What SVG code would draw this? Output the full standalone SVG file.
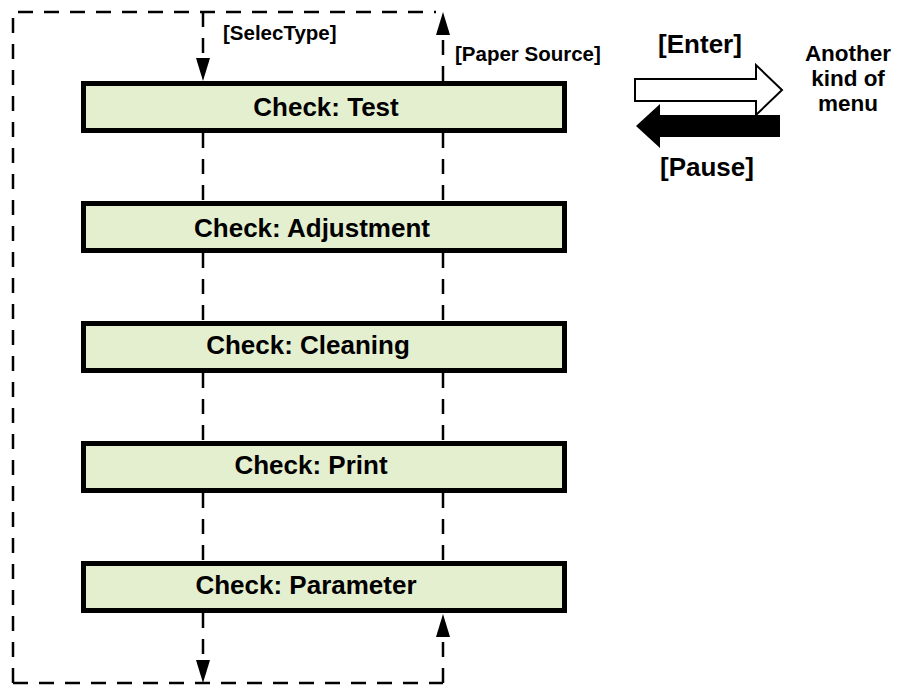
<svg xmlns="http://www.w3.org/2000/svg" width="905" height="685" viewBox="0 0 905 685">
  <style>
    .box { fill: #e4efcf; stroke: #000; stroke-width: 5; }
    .boxtxt { font-family: "Liberation Sans", Arial, sans-serif; font-weight: bold; font-size: 26px; fill: #000; text-anchor: middle; }
    .lbl { font-family: "Liberation Sans", Arial, sans-serif; font-weight: bold; font-size: 20.5px; fill: #000; }
    .big { font-family: "Liberation Sans", Arial, sans-serif; font-weight: bold; font-size: 26px; fill: #000; text-anchor: middle; }
    .side { font-family: "Liberation Sans", Arial, sans-serif; font-weight: bold; font-size: 22.5px; fill: #000; text-anchor: middle; }
    .dash { fill: none; stroke: #000; stroke-width: 2.5; stroke-dasharray: 15 11; }
    .dasharrow { fill: none; stroke: #000; stroke-width: 2.5; stroke-dasharray: 15 11; marker-end: url(#ah); }
  </style>
  <defs>
    <marker id="ah" viewBox="0 0 23 14" refX="0" refY="7" markerWidth="23" markerHeight="14" markerUnits="userSpaceOnUse" orient="auto">
      <path d="M0,0 L23,7 L0,14 Z" fill="#000"/>
    </marker>
  </defs>

  <g id="connectors">
    <!-- outer loop -->
    <path class="dash" d="M13,683 L13,12 L436,12"/>
    <path class="dash" d="M13,683 L443,683"/>
    <!-- SelecType entry -->
    <path class="dasharrow" d="M203,12 L203,58"/>
    <!-- Paper Source exit -->
    <path class="dasharrow" d="M443,81 L443,35"/>
    <!-- between boxes -->
    <path class="dash" d="M203,133 L203,201"/>
    <path class="dash" d="M443,133 L443,201"/>
    <path class="dash" d="M203,253 L203,321"/>
    <path class="dash" d="M443,253 L443,321"/>
    <path class="dash" d="M203,373 L203,441"/>
    <path class="dash" d="M443,373 L443,441"/>
    <path class="dash" d="M203,493 L203,561"/>
    <path class="dash" d="M443,493 L443,561"/>
    <!-- bottom arrows -->
    <path class="dasharrow" d="M203,613 L203,660"/>
    <path class="dasharrow" d="M443,683 L443,637"/>
    <!-- Enter / Pause arrows -->
    <polygon points="635,79 756,79 756,65 782,90 756,115 756,101 635,101" fill="#fff" stroke="#000" stroke-width="2"/>
    <polygon points="780,115 660,115 660,104 636,126 660,148 660,137 780,137" fill="#000"/>
  </g>

  <g id="node-test">
    <rect class="box" x="83.5" y="83.5" width="481" height="47"/>
    <text class="boxtxt" x="326" y="116">Check: Test</text>
  </g>
  <g id="node-adjustment">
    <rect class="box" x="83.5" y="203.5" width="481" height="47"/>
    <text class="boxtxt" x="312" y="237">Check: Adjustment</text>
  </g>
  <g id="node-cleaning">
    <rect class="box" x="83.5" y="323.5" width="481" height="47"/>
    <text class="boxtxt" x="308" y="354">Check: Cleaning</text>
  </g>
  <g id="node-print">
    <rect class="box" x="83.5" y="443.5" width="481" height="47"/>
    <text class="boxtxt" x="311" y="474">Check: Print</text>
  </g>
  <g id="node-parameter">
    <rect class="box" x="83.5" y="563.5" width="481" height="47"/>
    <text class="boxtxt" x="306" y="594">Check: Parameter</text>
  </g>

  <g id="labels">
    <text class="lbl" x="223" y="40">[SelecType]</text>
    <text class="lbl" x="455" y="61">[Paper Source]</text>
    <text class="big" x="700" y="53">[Enter]</text>
    <text class="big" x="707" y="176">[Pause]</text>
    <text class="side" x="848" y="61">Another</text>
    <text class="side" x="848" y="86">kind of</text>
    <text class="side" x="848" y="111">menu</text>
  </g>
</svg>
